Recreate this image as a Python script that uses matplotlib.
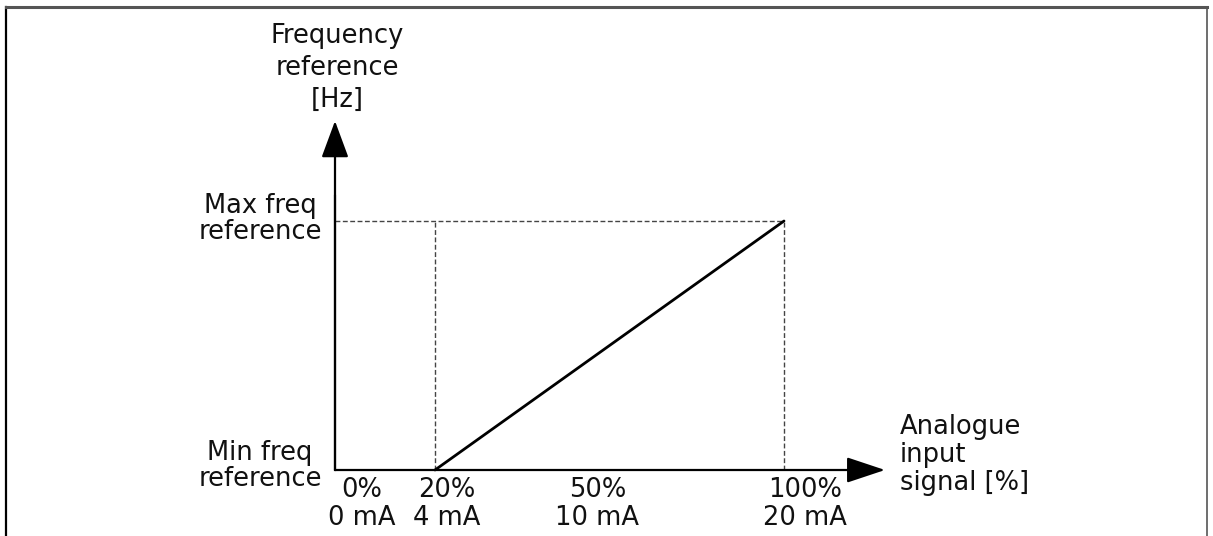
import matplotlib
matplotlib.use("Agg")
import matplotlib.pyplot as plt
from matplotlib.lines import Line2D

# ---- data ----
signal_pct = [20, 100]          # analogue input (%) where the reference ramps
freq_ref = [0.0, 1.0]           # normalised frequency reference (min -> max)
tick_pct = ["0%", "20%", "50%", "100%"]
tick_ma = ["0 mA", "4 mA", "10 mA", "20 mA"]
tick_label_pos = [3.3, 22.6, 57.2, 104.8]   # label centres along x (percent, schematic)
y_labels = ["Min freq\nreference", "Max freq\nreference"]
x_title = "Analogue\ninput\nsignal [%]"
y_title = "Frequency\nreference\n[Hz]"

W, H, DPI = 1213, 536, 100
fig = plt.figure(figsize=(W / DPI, H / DPI), dpi=DPI)
fig.patch.set_facecolor("white")

# page frame
fig.add_artist(Line2D([6 / W, 6 / W], [0, 1 - 7 / H], transform=fig.transFigure, color="black", lw=1.6))
fig.add_artist(Line2D([6 / W, 1207 / W], [1 - 7 / H, 1 - 7 / H], transform=fig.transFigure, color="#555555", lw=2.2))
fig.add_artist(Line2D([1207 / W, 1207 / W], [0, 1 - 7 / H], transform=fig.transFigure, color="#555555", lw=1.2))

# axes geometry (pixels): y-axis at 335, 20% guide at 435, 100% guide at 784
px_axis, px20, px100 = 335, 435, 784
y0, y1 = 470, 221
scale = (px100 - px20) / (signal_pct[1] - signal_pct[0])
x_left = signal_pct[0] - (px20 - px_axis) / scale
ax = fig.add_axes([px_axis / W, 1 - y0 / H, (px100 - px_axis) / W, (y0 - y1) / H])
ax.set_xlim(x_left, signal_pct[1])
ax.set_ylim(0, 1)
ax.axis("off")

fs = 18.5
fam = ["DejaVu Sans"]
tc = "#111111"

def px_to_x(px):
    return x_left + (px - px_axis) / scale

def py_to_y(py):
    return (y0 - py) / (y0 - y1)

# dashed guides
dash = dict(color="#444444", lw=1.0, ls=(0, (3.5, 1.8)), clip_on=False)
ax.plot([x_left, signal_pct[1]], [freq_ref[1], freq_ref[1]], **dash)
ax.plot([signal_pct[0], signal_pct[0]], [0, freq_ref[1]], **dash)
ax.plot([signal_pct[1], signal_pct[1]], [0, freq_ref[1]], **dash)

# main ramp
ax.plot(signal_pct, freq_ref, color="black", lw=2.0, solid_capstyle="round", clip_on=False)

# axes arrows
ax.annotate("", xy=(px_to_x(885), 0), xytext=(x_left, 0), xycoords="data",
            arrowprops=dict(arrowstyle="-|>,head_length=2.4,head_width=0.8", color="black", lw=1.6,
                            shrinkA=0, shrinkB=0), annotation_clip=False)
ax.annotate("", xy=(x_left, py_to_y(121)), xytext=(x_left, 0), xycoords="data",
            arrowprops=dict(arrowstyle="-|>,head_length=2.3,head_width=0.85", color="black", lw=1.6,
                            shrinkA=0, shrinkB=0), annotation_clip=False)
ax.plot([x_left, x_left], [0, 1.1], color="#555555", lw=1.6, clip_on=False)

# tick labels
for pos, t1, t2 in zip(tick_label_pos, tick_pct, tick_ma):
    ax.text(pos, py_to_y(490), t1, ha="center", va="center", fontsize=fs, family=fam, color=tc)
    ax.text(pos, py_to_y(518), t2, ha="center", va="center", fontsize=fs, family=fam, color=tc)

# y labels
ylab_x = px_to_x(260)
ax.text(ylab_x, py_to_y(466), y_labels[0], ha="center", va="center", fontsize=fs, family=fam,
        linespacing=1.02, color=tc)
ax.text(ylab_x, py_to_y(219), y_labels[1], ha="center", va="center", fontsize=fs, family=fam,
        linespacing=1.02, color=tc)

# axis titles
ax.text(px_to_x(900), py_to_y(455), x_title, ha="left", va="center", fontsize=fs,
        family=fam, linespacing=1.12, color=tc)
ax.text(px_to_x(337), py_to_y(68), y_title, ha="center", va="center",
        fontsize=fs, family=fam, linespacing=1.28, color=tc)

fig.savefig("out.png", dpi=DPI, facecolor="white")
